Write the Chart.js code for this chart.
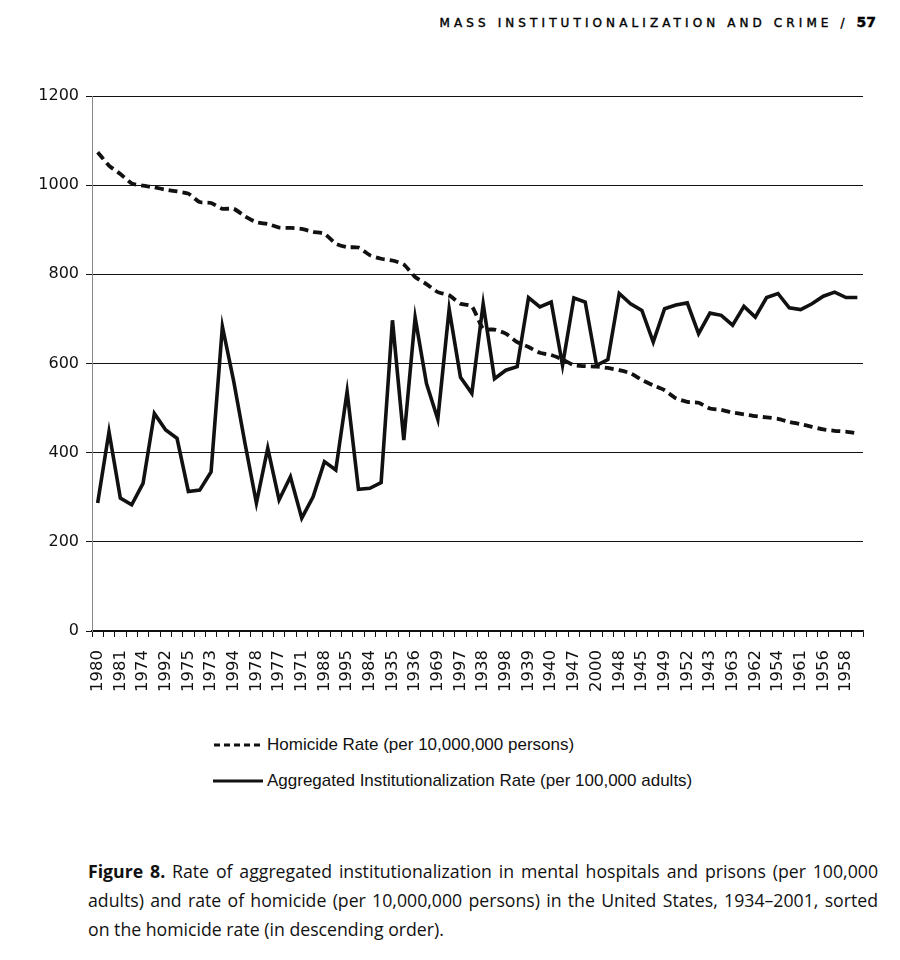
<!DOCTYPE html>
<html>
<head>
<meta charset="utf-8">
<script src="https://cdn.jsdelivr.net/npm/chart.js@4.4.1/dist/chart.umd.min.js"></script>
<style>
  body { margin: 0; background: #fff; width: 900px; height: 960px; position: relative; font-family: "DejaVu Sans", sans-serif; color: #111; }
  #header { position: absolute; right: 24px; top: 14px; font-size: 12px; letter-spacing: 4.1px; color: #000; -webkit-text-stroke: 0.4px #000; }
  #header b { letter-spacing: 0; font-size: 14px; }
  #wrap { position: absolute; left: 0; top: 80px; width: 880px; height: 625px; }
  #legend { position: absolute; left: 213px; top: 727px; font-family: "Liberation Sans Narrow", "Liberation Sans", sans-serif; font-size: 17px; }
  #legend div { height: 36px; display: flex; align-items: center; }
  #legend svg { margin-right: 4px; }
  #caption { position: absolute; left: 88px; top: 857px; width: 790px; font-family: "Open Sans", sans-serif; font-size: 17.7px; line-height: 29px; text-align: justify; color: #111; }
</style>
</head>
<body>
<div id="header">MASS INSTITUTIONALIZATION AND CRIME / <b>57</b></div>
<div id="wrap"><canvas id="mycanvas"></canvas></div>
<div id="legend">
  <div><svg width="50" height="6"><line x1="1" y1="3" x2="50" y2="3" stroke="#111" stroke-width="3.2" stroke-dasharray="6,4"/></svg>Homicide Rate (per 10,000,000 persons)</div>
  <div><svg width="50" height="6"><line x1="0" y1="3" x2="50" y2="3" stroke="#111" stroke-width="3.2"/></svg>Aggregated Institutionalization Rate (per 100,000 adults)</div>
</div>
<div id="caption"><b>Figure 8.</b> Rate of aggregated institutionalization in mental hospitals and prisons (per 100,000 adults) and rate of homicide (per 10,000,000 persons) in the United States, 1934&ndash;2001, sorted on the homicide rate (in descending order).</div>
<script>
// years sorted by homicide rate, descending (only every other one is labelled)
var years = [
  "1980", "1991", "1981", "1993", "1974", "1979", "1992", "1990", "1975", "1976",
  "1973", "1982", "1994", "1989", "1978", "1986", "1977", "1972", "1971", "1987",
  "1988", "1985", "1995", "1983", "1984", "1970", "1935", "1934", "1936", "1937",
  "1969", "1996", "1997", "1968", "1938", "1967", "1998", "1941", "1939", "1946",
  "1940", "1999", "1947", "1944", "2000", "2001", "1948", "1942", "1945", "1966",
  "1949", "1951", "1952", "1965", "1943", "1950", "1963", "1953", "1962", "1955",
  "1954", "1964", "1961", "1960", "1956", "1959", "1958", "1957"
];

var homicide = [
  1074, 1044, 1025, 1004, 999, 995, 990, 986, 981, 962,
  960, 947, 947, 930, 917, 913, 905, 904, 902, 895,
  891, 869, 861, 860, 843, 835, 831, 822, 794, 778,
  760, 753, 734, 728, 678, 676, 667, 648, 637, 624,
  619, 609, 596, 594, 593, 590, 585, 578, 563, 551,
  540, 522, 514, 512, 499, 496, 490, 486, 482, 479,
  476, 469, 464, 458, 452, 449, 447, 443
];

var institutionalization = [
  287, 447, 298, 283, 331, 488, 451, 432, 313, 316,
  357, 683, 560, 420, 287, 410, 294, 346, 253, 301,
  380, 361, 537, 318, 320, 333, 697, 428, 703, 555,
  475, 722, 569, 533, 734, 566, 585, 593, 748, 727,
  738, 596, 747, 738, 596, 609, 757, 734, 719, 648,
  723, 731, 736, 667, 713, 708, 686, 728, 704, 748,
  757, 725, 721, 734, 751, 760, 748, 748
];

var yTicks = [0, 200, 400, 600, 800, 1000, 1200];

var chartdata = {
    labels: years,
    datasets: [
        {
            label: 'Homicide Rate (per 10,000,000 persons)',
            data: homicide,
            borderColor: '#111',
            borderWidth: 3.8,
            borderDash: [9, 5],
            pointRadius: 0,
            tension: 0.2,
            fill: false
        },
        {
            label: 'Aggregated Institutionalization Rate (per 100,000 adults)',
            data: institutionalization,
            borderColor: '#111',
            borderWidth: 3.6,
            pointRadius: 0,
            tension: 0,
            fill: false
        }
    ]
};

var ctx = document.getElementById('mycanvas');

var lineGraph = new Chart(ctx, {
    type: 'line',
    data: chartdata,
    options: {
        responsive: true,
        maintainAspectRatio: false,
        animation: false,
        layout: { padding: { left: 0, top: 16, right: 17, bottom: 0 } },
        plugins: {
            legend: { display: false },
            tooltip: { enabled: false }
        },
        scales: {
            x: {
                type: 'category',
                offset: true,
                afterFit: function(s) { s.height = 74; s.paddingLeft = 0; s.paddingRight = 0; },
                grid: { drawOnChartArea: false, offset: true, tickLength: 6, color: '#111', lineWidth: 1 },
                border: { display: true, color: '#111', width: 1.5 },
                ticks: {
                    autoSkip: false,
                    maxRotation: 90,
                    minRotation: 90,
                    padding: 13,
                    color: '#111',
                    font: { family: 'DejaVu Sans', size: 16.5 },
                    callback: function(v, i) { return i % 2 === 0 ? years[i] : ''; }
                }
            },
            y: {
                min: 0,
                max: 1200,
                afterFit: function(s) { s.width = 92; s.paddingTop = 0; s.paddingBottom = 0; },
                afterBuildTicks: function(s) { s.ticks = yTicks.map(function(v) { return { value: v }; }); },
                grid: { color: '#111', lineWidth: 1, tickLength: 6 },
                border: { display: true, color: '#888', width: 1 },
                ticks: {
                    padding: 7,
                    color: '#111',
                    font: { family: 'DejaVu Sans', size: 16 },
                    callback: function(v) { return String(v); }
                }
            }
        }
    }
});
</script>
</body>
</html>
